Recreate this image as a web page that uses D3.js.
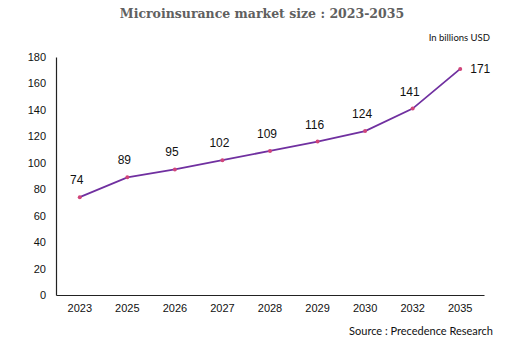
<!DOCTYPE html>
<html><head><meta charset="utf-8">
<script src="https://cdn.jsdelivr.net/npm/d3@7"></script>
<style>body{margin:0;background:#fff}svg{display:block}</style>
</head><body>
<script>
const years = ["2023","2025","2026","2027","2028","2029","2030","2032","2035"];
const values = [74, 89, 95, 102, 109, 116, 124, 141, 171];
const yTicks = [0,20,40,60,80,100,120,140,160,180];
const title = "Microinsurance market size : 2023-2035";
const unitNote = "In billions USD";
const source = "Source : Precedence Research";

const W = 525, H = 340;
const svg = d3.select("body").append("svg").attr("width", W).attr("height", H);
const x = d3.scaleBand().domain(years).range([56, 484]);
const y = d3.scaleLinear().domain([0, 180]).range([295, 57]);

svg.append("text").attr("x", 262).attr("y", 18).attr("text-anchor", "middle")
  .attr("font-family", "DejaVu Serif").attr("font-weight", "bold").attr("font-size", 12.5)
  .attr("fill", "#606060").text(title);

svg.append("text").attr("x", 490).attr("y", 41).attr("text-anchor", "end")
  .attr("font-family", "Lato, 'DejaVu Sans'").attr("font-size", 9.5).attr("fill", "#111").text(unitNote);

const yAxis = svg.append("g").attr("transform", "translate(56,0)")
  .call(d3.axisLeft(y).tickValues(yTicks).tickSize(0).tickPadding(10));
const xAxis = svg.append("g").attr("transform", "translate(0,295)")
  .call(d3.axisBottom(x).tickSize(0).tickPadding(9));
[yAxis, xAxis].forEach(g => {
  g.select(".domain").attr("stroke", "#222").attr("stroke-width", 1.2);
  g.selectAll("text").attr("font-family", "Liberation Sans, Arial").attr("font-size", 11).attr("fill", "#111");
});

const cx = d => x(d) + x.bandwidth() / 2;
const line = d3.line().x((d, i) => cx(years[i])).y(d => y(d));
svg.append("path").datum(values).attr("d", line).attr("fill", "none")
  .attr("stroke", "#7030a0").attr("stroke-width", 1.8);
svg.selectAll("circle.pt").data(values).join("circle").attr("class", "pt")
  .attr("cx", (d, i) => cx(years[i])).attr("cy", d => y(d)).attr("r", 2).attr("fill", "#d0457a");
svg.selectAll("text.lbl").data(values).join("text").attr("class", "lbl")
  .attr("x", (d, i) => i === values.length - 1 ? cx(years[i]) + 20 : cx(years[i]) - 3)
  .attr("y", (d, i) => i === values.length - 1 ? y(d) + 4 : y(d) - 13)
  .attr("text-anchor", "middle").attr("font-family", "Liberation Sans, Arial").attr("font-size", 12)
  .attr("fill", "#111").text(d => d);

svg.append("text").attr("x", 493).attr("y", 335).attr("text-anchor", "end")
  .attr("font-family", "Lato, 'DejaVu Sans'").attr("font-size", 11).attr("fill", "#111").text(source);
</script>
</body></html>
